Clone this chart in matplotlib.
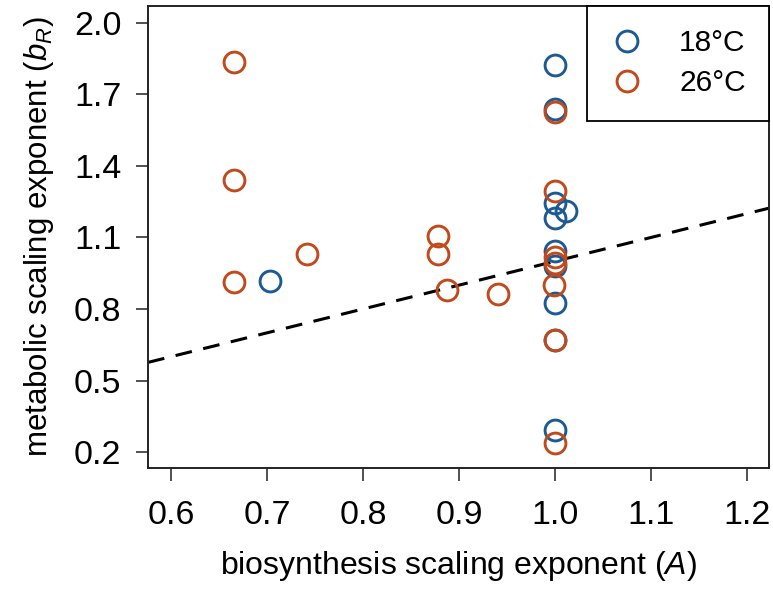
import matplotlib
matplotlib.use("Agg")
import matplotlib.pyplot as plt
import numpy as np

# biosynthesis scaling exponent (A) and metabolic scaling exponent (b_R)
a_18 = [0.703, 1.0, 1.0, 1.0, 1.011, 1.0, 1.0, 1.0, 1.0, 1.0, 1.0]
b_18 = [0.917, 1.824, 1.639, 1.245, 1.211, 1.182, 1.045, 0.982, 0.825, 0.668, 0.292]

a_26 = [0.666, 0.666, 0.666, 0.742, 0.878, 0.878, 0.888, 0.941,
        1.0, 1.0, 1.0, 1.0, 0.999, 1.0, 1.0]
b_26 = [1.836, 1.341, 0.912, 1.031, 1.108, 1.031, 0.880, 0.862,
        1.625, 1.297, 1.018, 0.995, 0.901, 0.668, 0.238]

# 1:1 reference line
line_intercept = 0.0
line_slope = 1.0

x_ticks = [0.6, 0.7, 0.8, 0.9, 1.0, 1.1, 1.2]
y_ticks = [0.2, 0.5, 0.8, 1.1, 1.4, 1.7, 2.0]
labels = ["18°C", "26°C"]

blue = "#1d5a94"
orange = "#c2491c"

plt.rcParams["font.family"] = ["Liberation Sans", "DejaVu Sans"]
plt.rcParams["mathtext.fontset"] = "custom"
plt.rcParams["mathtext.rm"] = "Liberation Sans"
plt.rcParams["mathtext.it"] = "Liberation Sans:italic"

fig = plt.figure(figsize=(7.73, 5.91), dpi=100)
ax = fig.add_axes([148 / 773, 1 - 468 / 591, (769 - 148) / 773, (468 - 6) / 591])

xlim = (0.576, 1.223)
ylim = (0.133, 2.071)

# Линия 1:1
xs = np.array(xlim)
ax.plot(xs, line_intercept + line_slope * xs, ls=(0, (5.5, 3.8)), color="black", lw=2.2, zorder=1)

mk = dict(marker="o", ls="none", ms=15, mfc="none", mew=2.1, zorder=2)
ax.plot(a_18, b_18, mec=blue, label=labels[0], **mk)
ax.plot(a_26, b_26, mec=orange, label=labels[1], **mk)

ax.set_xlim(*xlim)
ax.set_ylim(*ylim)
ax.set_xticks(x_ticks)
ax.set_yticks(y_ticks)
ax.set_xticklabels([f"{t:.1f}" for t in x_ticks])
ax.set_yticklabels([f"{t:.1f}" for t in y_ticks])
ax.tick_params(axis="both", labelsize=24.5, length=9, width=1.2, color="#333333")
ax.tick_params(axis="x", pad=14)
ax.tick_params(axis="y", pad=10)
for s in ax.spines.values():
    s.set_linewidth(1.4)
    s.set_color("#222222")

ax.set_xlabel(r"biosynthesis scaling exponent $(A)$", fontsize=23, labelpad=13)
ax.set_ylabel(r"metabolic scaling exponent $(b_R)$", fontsize=22.5, labelpad=13)

leg = ax.legend(loc="upper right", borderaxespad=0, fontsize=21.5, fancybox=False,
                edgecolor="black", framealpha=1, handletextpad=1.2, borderpad=0.78,
                labelspacing=0.4, handlelength=1.1)
leg.get_frame().set_linewidth(1.3)

fig.savefig("out.png", dpi=100)
